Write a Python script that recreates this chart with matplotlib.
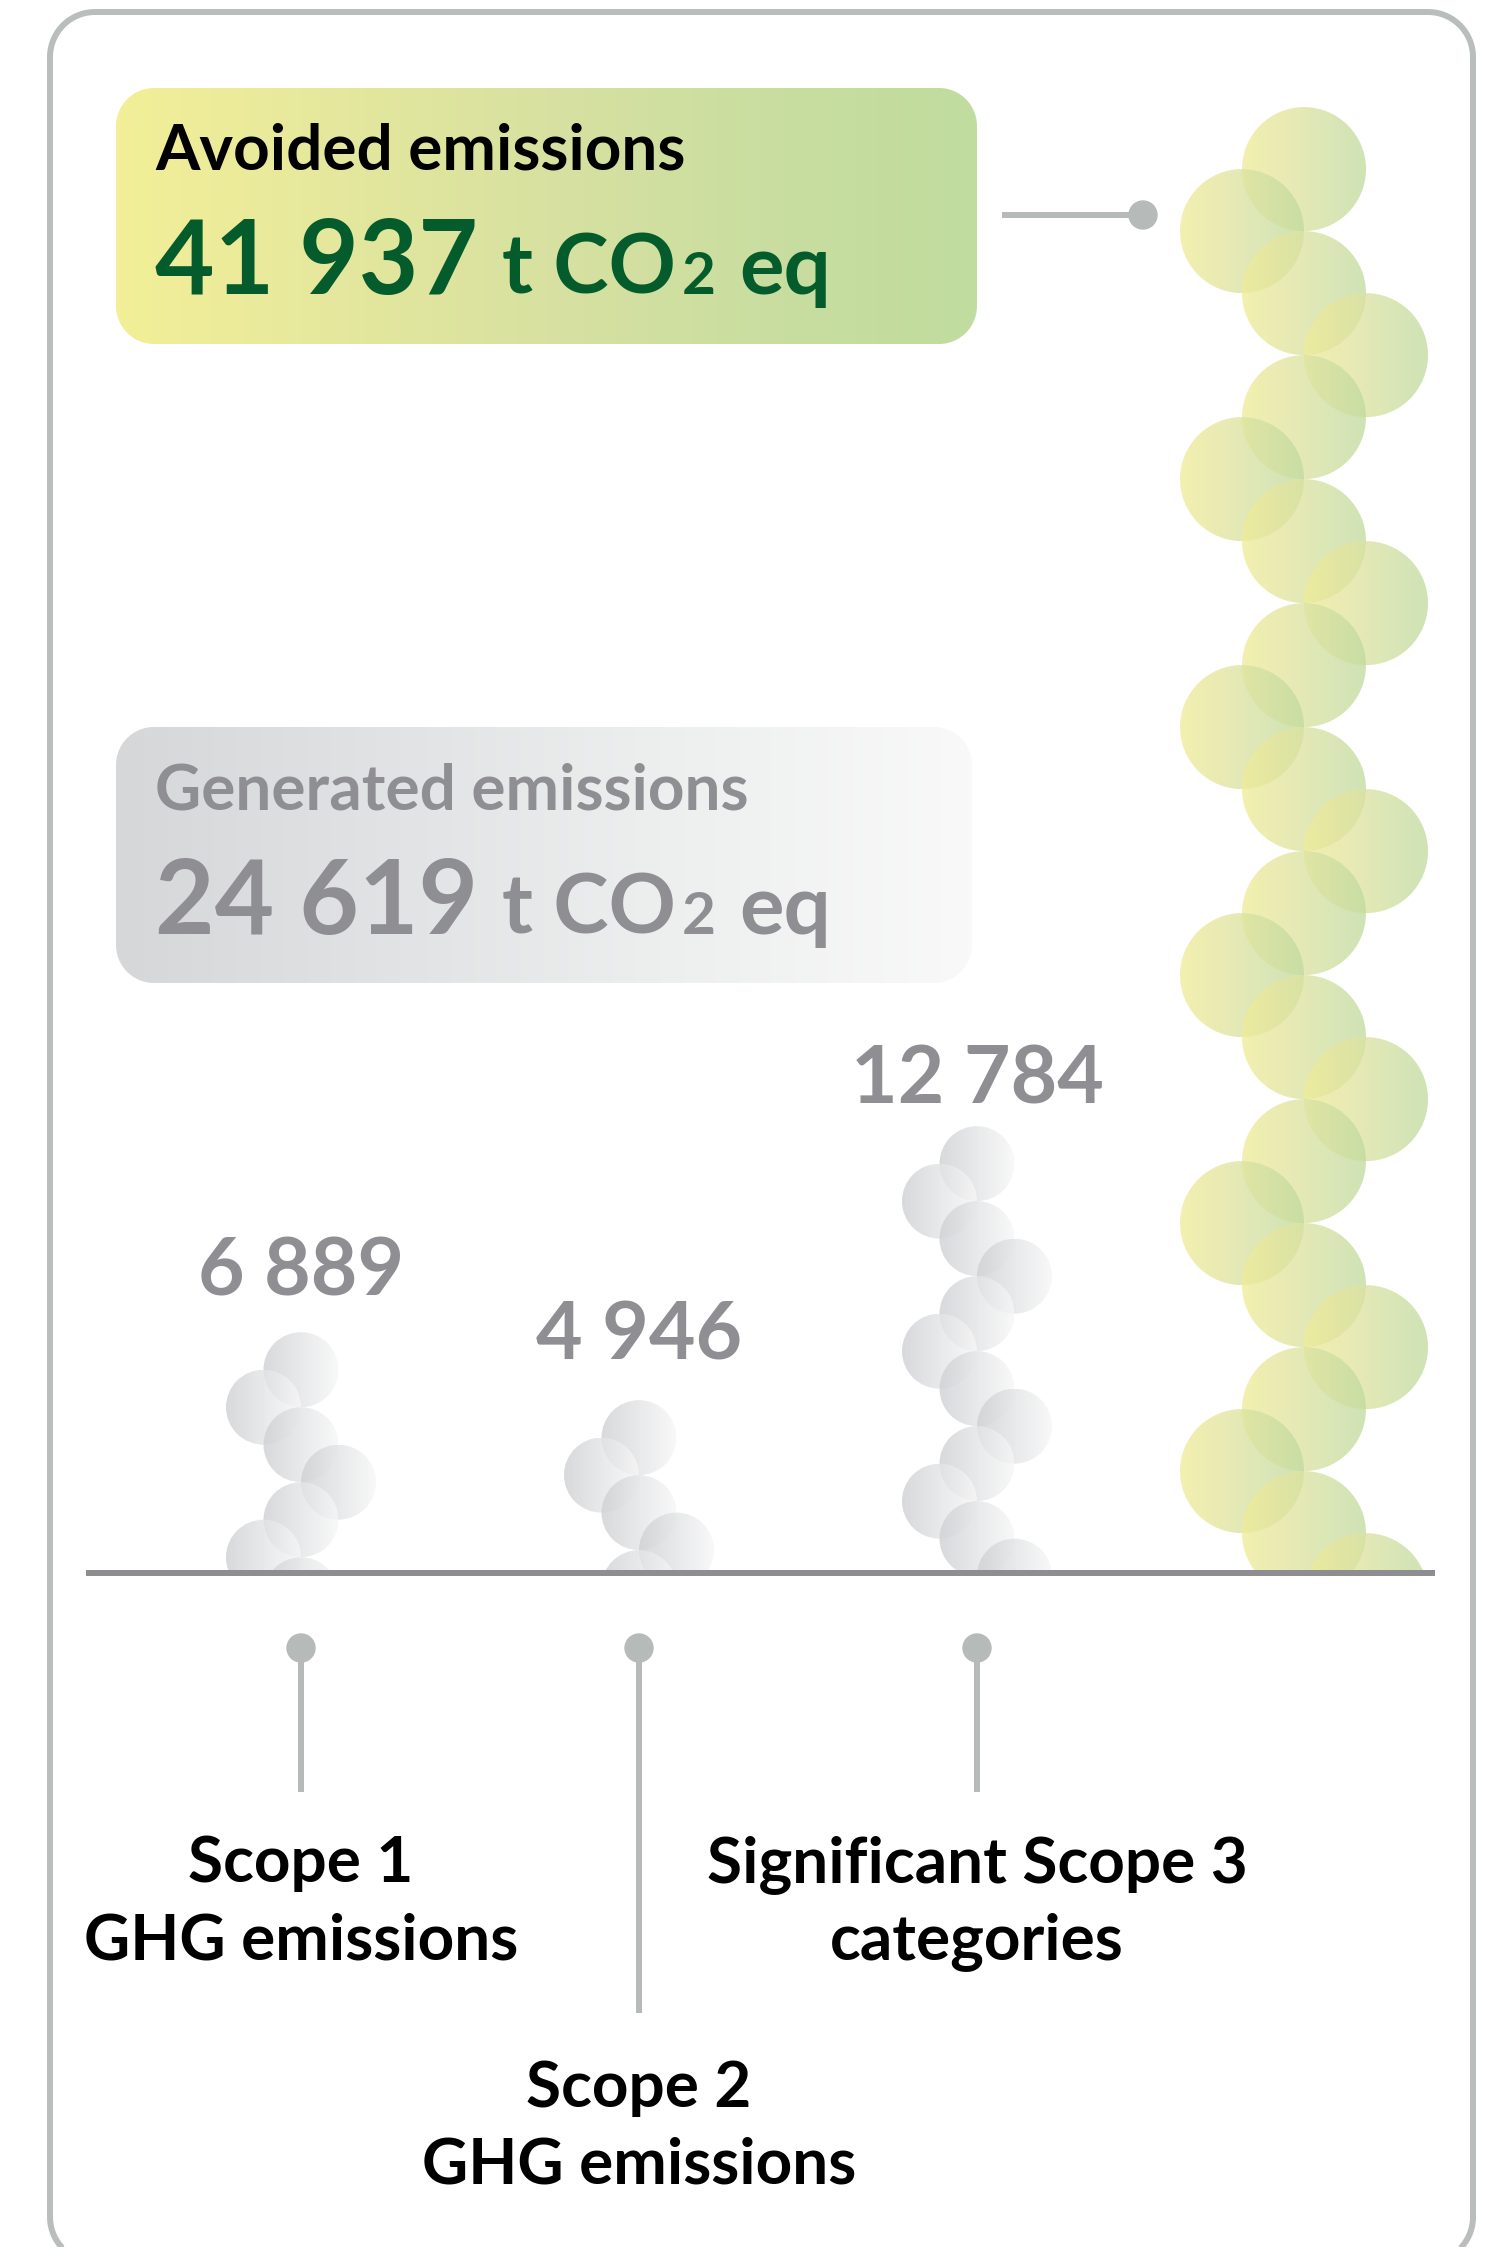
import numpy as np
import matplotlib
matplotlib.use("Agg")
import matplotlib.pyplot as plt
from matplotlib.patches import FancyBboxPatch, Ellipse, Circle, PathPatch
from matplotlib.path import Path
from matplotlib.colors import LinearSegmentedColormap

# ---- data (t CO2 eq) ----
categories = ["Scope 1\nGHG emissions", "Scope 2\nGHG emissions",
              "Significant Scope 3\ncategories"]
generated_values = [6889, 4946, 12784]
value_labels = ["6 889", "4 946", "12 784"]
generated_total = 24619
generated_total_label = "24 619"
avoided_total = 41937
avoided_total_label = "41 937"
unit_parts = ["t CO", "2", "eq"]

# ---- layout (pixels) ----
W, H, DPI = 1496, 2247, 100
BASE_Y, TOP_Y, YMAX = 1573, 35, 44000
col_x = [301, 639, 977]
avoided_x = 1304
gray_r, green_r = 37.5, 62
label_gap_px = [37, 41, 23]
pin_y = 1648
pin_bottoms = [1792, 2013, 1792]
cat_baselines = [(1882, 1959), (2107, 2183), (1882, 1959)]

FONT = ["Lato", "DejaVu Sans"]
C_GRAY_TEXT = "#8e8e93"
C_GREEN_TEXT = "#045c2d"
C_PIN = "#b6bbba"
C_FRAME = "#b9bebd"
C_BASE = "#8e8e92"

green_cmap = LinearSegmentedColormap.from_list(
    "green_disc", ["#efed98", "#e4e59f", "#d3e0a2", "#c1dba0"])
gray_cmap = LinearSegmentedColormap.from_list(
    "gray_disc", ["#cfd0d3", "#e3e4e5", "#f7f7f8"])
avoided_cmap = LinearSegmentedColormap.from_list(
    "avoided_box", ["#f3ef98", "#e5e89d", "#d8e1a0", "#c9dea0", "#c0dc9e"])
generated_cmap = LinearSegmentedColormap.from_list(
    "generated_box", ["#d6d7d9", "#e2e3e4", "#eeefef", "#f9f9f9"])

fig = plt.figure(figsize=(W / DPI, H / DPI), dpi=DPI)
fig.patch.set_facecolor("white")

# background layer in pixel coordinates (y downwards)
bg = fig.add_axes([0, 0, 1, 1])
bg.axis("off")

# column layer: x in pixels, y in t CO2 eq
ax = fig.add_axes([0, (H - BASE_Y) / H, 1, (BASE_Y - TOP_Y) / H])
ax.axis("off")
px_per_t = (BASE_Y - TOP_Y) / YMAX

grad = np.linspace(0, 1, 256).reshape(1, -1)


def gradient_patch(axis, patch, extent, cmap, alpha=1.0, zorder=1):
    im = axis.imshow(grad, cmap=cmap, extent=extent, aspect="auto",
                     alpha=alpha, interpolation="bilinear", zorder=zorder)
    im.set_clip_path(patch)
    im.set_clip_box(axis.bbox)
    return im


def disc_column(x, value, r_px, cmap, alpha):
    r_t = r_px / px_per_t
    pattern = [0, -1, 0, 1]
    k = 0
    while value - r_t * (k + 1) + r_t > 0:
        cx = x + pattern[k % 4] * r_px
        cy = value - r_t * (k + 1)
        disc = Ellipse((cx, cy), 2 * r_px, 2 * r_t, transform=ax.transData,
                       facecolor="none", edgecolor="none")
        gradient_patch(ax, disc, [cx - r_px, cx + r_px, cy - r_t, cy + r_t],
                       cmap, alpha=alpha, zorder=2)
        k += 1


for x, v in zip(col_x, generated_values):
    disc_column(x, v, gray_r, gray_cmap, 0.8)
disc_column(avoided_x, avoided_total, green_r, green_cmap, 0.78)

for x, v, lab, gap in zip(col_x, generated_values, value_labels, label_gap_px):
    ax.annotate(lab, xy=(x, v), xytext=(0, gap * 72 / DPI),
                textcoords="offset points", ha="center", va="baseline",
                fontsize=58, fontweight="bold", color=C_GRAY_TEXT,
                family=FONT)

ax.plot([86, 1435], [0, 0], color=C_BASE, lw=6 * 72 / DPI,
        solid_capstyle="butt", clip_on=False, zorder=5)
ax.set_xlim(0, W)
ax.set_ylim(0, YMAX)

bg.set_xlim(0, W)
bg.set_ylim(H, 0)


# ---- frame ----
def rounded_rect_path(x0, y0, x1, y1, r, n=24):
    corners = [((x1 - r, y0 + r), -90, 0), ((x1 - r, y1 - r), 0, 90),
               ((x0 + r, y1 - r), 90, 180), ((x0 + r, y0 + r), 180, 270)]
    verts = []
    for (cx, cy), a0, a1 in corners:
        a = np.radians(np.linspace(a0, a1, n))
        verts += list(zip(cx + r * np.cos(a), cy + r * np.sin(a)))
    verts.append(verts[0])
    return Path(verts, closed=True)


bg.add_patch(PathPatch(rounded_rect_path(50, 12, 1473, 2262, 45),
                       facecolor="none", edgecolor=C_FRAME,
                       lw=6 * 72 / DPI, zorder=3))


# ---- summary boxes ----
def summary_box(x0, y0, x1, y1, cmap):
    box = PathPatch(rounded_rect_path(x0, y0, x1, y1, 38),
                    facecolor="none", edgecolor="none",
                    transform=bg.transData)
    gradient_patch(bg, box, [x0, x1, y1, y0], cmap, zorder=1)


summary_box(116, 88, 977, 344, avoided_cmap)
summary_box(116, 727, 972, 983, generated_cmap)
bg.set_xlim(0, W)
bg.set_ylim(H, 0)


def text_run(axis, x, y, pieces):
    renderer = fig.canvas.get_renderer()
    for s, size, weight, color, gap in pieces:
        t = axis.text(x + gap, y, s, fontsize=size, fontweight=weight,
                      color=color, ha="left", va="baseline", family=FONT,
                      zorder=4)
        bb = t.get_window_extent(renderer)
        x = bb.x1


bg.text(155, 169, "Avoided emissions", fontsize=46, fontweight="bold",
        color="black", ha="left", va="baseline", family=FONT, zorder=4)
text_run(bg, 155, 294, [
    (avoided_total_label, 74, "bold", C_GREEN_TEXT, 0),
    (unit_parts[0], 60, "bold", C_GREEN_TEXT, 24),
    (unit_parts[1], 42, "bold", C_GREEN_TEXT, 6),
    (unit_parts[2], 60, "bold", C_GREEN_TEXT, 24),
])

bg.text(155, 810, "Generated emissions", fontsize=46, fontweight="bold",
        color=C_GRAY_TEXT, ha="left", va="baseline", family=FONT, zorder=4)
text_run(bg, 155, 934, [
    (generated_total_label, 74, "bold", C_GRAY_TEXT, 0),
    (unit_parts[0], 60, "bold", C_GRAY_TEXT, 24),
    (unit_parts[1], 42, "bold", C_GRAY_TEXT, 6),
    (unit_parts[2], 60, "bold", C_GRAY_TEXT, 24),
])

# connector from the avoided box to its column
bg.plot([1002, 1143], [215, 215], color=C_PIN, lw=6 * 72 / DPI,
        solid_capstyle="butt", zorder=3)
bg.add_patch(Circle((1143, 215), 14, color=C_PIN, zorder=3))

# ---- category pins and labels ----
for x, cat, yb, bl in zip(col_x, categories, pin_bottoms, cat_baselines):
    bg.plot([x, x], [pin_y, yb], color=C_PIN, lw=6 * 72 / DPI,
            solid_capstyle="butt", zorder=3)
    bg.add_patch(Circle((x, pin_y), 14, color=C_PIN, zorder=3))
    for line, y in zip(cat.split("\n"), bl):
        bg.text(x, y, line, fontsize=46, fontweight="bold", color="black",
                ha="center", va="baseline", family=FONT, zorder=4)

bg.set_xlim(0, W)
bg.set_ylim(H, 0)
fig.savefig("out.png", dpi=DPI, facecolor="white")
